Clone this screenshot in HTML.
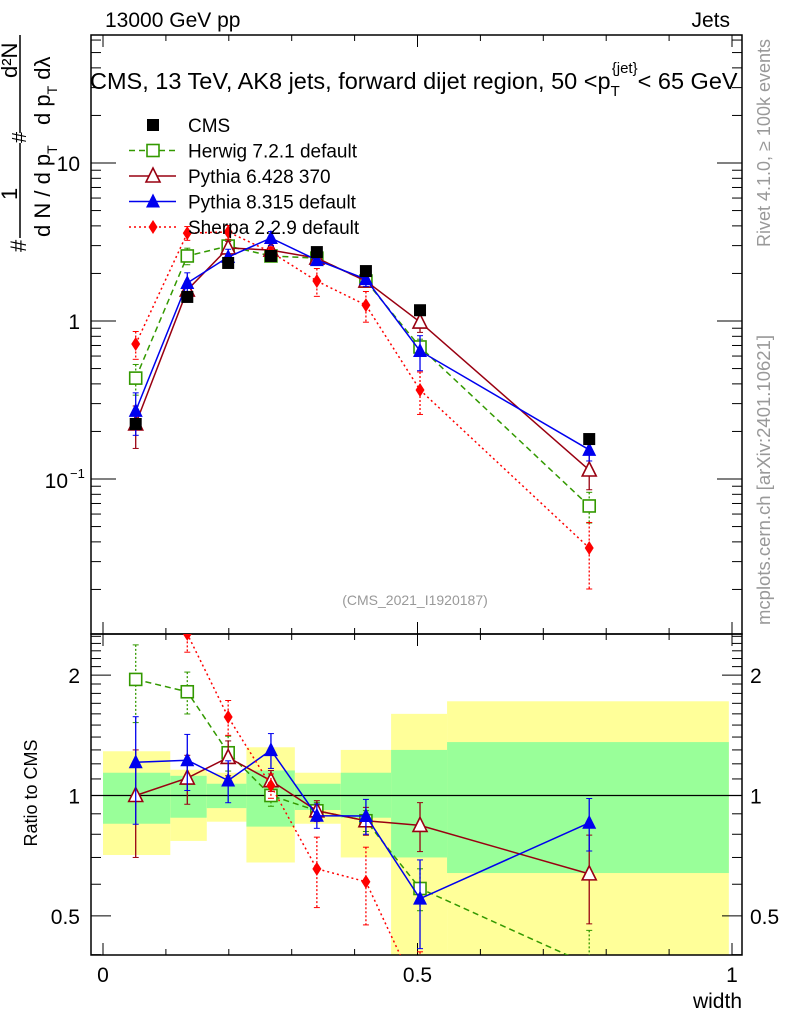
<!DOCTYPE html>
<html><head><meta charset="utf-8"><style>
html,body{margin:0;background:#fff;overflow:hidden;width:786px;height:1024px}
svg{display:block;font-family:"Liberation Sans",sans-serif}
</style></head><body>
<svg id="c" width="786" height="1024" xmlns="http://www.w3.org/2000/svg"></svg>
<script>
const xVals=[0.052,0.134,0.199,0.267,0.34,0.418,0.504,0.773];
const binEdges=[0,0.107,0.165,0.228,0.305,0.378,0.458,0.547,0.995];
const cms=[0.223,1.42,2.33,2.58,2.73,2.07,1.17,0.179];
const herwig=[0.435,2.58,2.98,2.58,2.5,1.79,0.685,0.0675];
const pythia6=[0.223,1.57,2.9,2.81,2.5,1.79,0.985,0.114];
const pythia8=[0.27,1.74,2.54,3.35,2.43,1.84,0.646,0.153];
const sherpa=[0.715,3.6,3.66,2.73,1.79,1.26,0.366,0.0366];
const herwigErr=[0.22,0.12,0.1,0.06,0.05,0.06,0.12,0.22];
const pythia6Err=[0.3,0.14,0.1,0.06,0.06,0.08,0.14,0.25];
const pythia8Err=[0.3,0.16,0.12,0.1,0.07,0.1,0.25,0.15];
const sherpaErr=[0.2,0.1,0.1,0.07,0.2,0.22,0.3,0.45];
const greenHi=[1.14,1.12,1.07,1.155,1.07,1.14,1.30,1.36];
const greenLo=[0.85,0.88,0.93,0.836,0.92,0.88,0.70,0.64];
const yellowHi=[1.29,1.16,1.14,1.32,1.14,1.30,1.6,1.72];
const yellowLo=[0.71,0.77,0.86,0.68,0.85,0.70,0.40,0.36];

const S=document.getElementById('c');
const NS='http://www.w3.org/2000/svg';
function mk(t,a,p){const e=document.createElementNS(NS,t);for(const k in a)e.setAttribute(k,a[k]);(p||S).appendChild(e);return e;}
const L=91,R=742,T=35,MB=634,RB=955;
const X=v=>103+629*v;
const Y=v=>321-158*Math.log10(v);
const YR=v=>795.5-400*Math.log10(v);
const clipM=mk('clipPath',{id:'cm'});mk('rect',{x:L,y:T,width:R-L,height:MB-T},clipM);
const clipR=mk('clipPath',{id:'cr'});mk('rect',{x:L,y:MB,width:R-L,height:RB-MB},clipR);

const gb=mk('g',{'clip-path':'url(#cr)'});

for(let i=0;i<8;i++){
 const x0=X(binEdges[i]),x1=X(binEdges[i+1]);
 const y=mk('rect',{x:x0,y:YR(yellowHi[i]),width:x1-x0,height:YR(yellowLo[i])-YR(yellowHi[i]),fill:'#ffff99'},gb);
 
 const g=mk('rect',{x:x0,y:YR(greenHi[i]),width:x1-x0,height:YR(greenLo[i])-YR(greenHi[i]),fill:'#99ff99'},gb);
 
}
mk('line',{x1:L,x2:R,y1:YR(1),y2:YR(1),stroke:'#000','stroke-width':1.3});

const f1=mk('rect',{x:L,y:T,width:R-L,height:MB-T,fill:'none',stroke:'#000','stroke-width':1.5});

const f2=mk('rect',{x:L,y:MB,width:R-L,height:RB-MB,fill:'none',stroke:'#000','stroke-width':1.5});


for(let i=0;i<=10;i++){const v=i/10,x=X(v),len=(i%5==0)?12:6;
 for(const [b,t] of [[MB,T],[RB,MB]]){mk('line',{x1:x,x2:x,y1:b,y2:b-len,stroke:'#000'});mk('line',{x1:x,x2:x,y1:t,y2:t+len,stroke:'#000'});}
}
[[0,'0'],[0.5,'0.5'],[1,'1']].forEach(([v,s])=>{const t=mk('text',{x:X(v),y:982,'font-size':21,'text-anchor':'middle'});t.textContent=s;});
const xl=mk('text',{x:742,y:1008,'font-size':21,'text-anchor':'end'});xl.textContent='width';

for(let d=-2;d<=1;d++)for(let m=1;m<10;m++){const v=m*Math.pow(10,d),y=Y(v);if(y<T||y>MB)continue;const len=m==1?25:10;
 mk('line',{x1:L,x2:L+len,y1:y,y2:y,stroke:'#000'});mk('line',{x1:R,x2:R-len,y1:y,y2:y,stroke:'#000'});}
[[10,'10'],[1,'1']].forEach(([v,s])=>{const t=mk('text',{x:80,y:Y(v)+8,'font-size':21,'text-anchor':'end'});t.textContent=s;});
const t01=mk('text',{x:68,y:Y(0.1)+9,'font-size':21,'text-anchor':'end'});t01.textContent='10';
const t01e=mk('text',{x:70,y:Y(0.1)-1,'font-size':13});t01e.textContent='−1';

[0.4,0.5,0.6,0.7,0.8,0.9,1,1.1,1.2,1.3,1.4,1.5,1.6,1.7,1.8,1.9,2,2.1,2.2,2.3,2.4,2.5].forEach(v=>{const y=YR(v);if(y<MB||y>RB)return;const len=(v==0.5||v==1||v==2)?20:10;
 mk('line',{x1:L,x2:L+len,y1:y,y2:y,stroke:'#000'});mk('line',{x1:R,x2:R-len,y1:y,y2:y,stroke:'#000'});});
[[2,'2'],[1,'1'],[0.5,'0.5']].forEach(([v,s])=>{for(const [x,a] of [[80,'end'],[750,'start']]){const t=mk('text',{x:x,y:YR(v)+8,'font-size':21,'text-anchor':a});t.textContent=s;}});
const rl=mk('text',{x:0,y:0,'font-size':18,'text-anchor':'middle',transform:'translate(37,793) rotate(-90)'});rl.textContent='Ratio to CMS';

const tt=[[105,27,'13000 GeV pp','start',21,'#000','top-left-label'],[730,27,'Jets','end',21,'#000','top-right-label'],
[415,605,'(CMS_2021_I1920187)','middle',14,'#999','analysis-id']];
tt.forEach(a=>{const t=mk('text',{x:a[0],y:a[1],'text-anchor':a[3],'font-size':a[4],fill:a[5]});t.textContent=a[2];});
const ti=mk('text',{x:90,y:89,'font-size':23.5});
ti.innerHTML='CMS, 13 TeV, AK8 jets, forward dijet region, 50 &lt;p<tspan dy="7" font-size="15">T</tspan><tspan dy="-23" dx="-8" font-size="15">{jet}</tspan><tspan dy="16">&lt; 65 GeV</tspan>';
const rv=mk('text',{x:0,y:0,'font-size':18,fill:'#999','text-anchor':'middle',transform:'translate(770,143) rotate(-90)'});rv.textContent='Rivet 4.1.0, ≥ 100k events';
const mp=mk('text',{x:0,y:0,'font-size':18.5,fill:'#999','text-anchor':'middle',transform:'translate(770,480) rotate(-90)'});mp.textContent='mcplots.cern.ch [arXiv:2401.10621]';

const yt=mk('g',{transform:'rotate(-90)'});
mk('text',{x:-252,y:26,'font-size':22},yt).textContent='#';
mk('line',{x1:-238,x2:-143,y1:20,y2:20,stroke:'#000','stroke-width':1.5},yt);
mk('text',{x:-200,y:17,'font-size':22},yt).textContent='1';
const dn=mk('text',{x:-237,y:50,'font-size':22},yt);dn.innerHTML='d N / d p<tspan dy="7" font-size="14">T</tspan>';
mk('text',{x:-143,y:26,'font-size':20},yt).textContent='#';
mk('line',{x1:-133,x2:-35,y1:20,y2:20,stroke:'#000','stroke-width':1.5},yt);
mk('text',{x:-78,y:17,'font-size':22},yt).textContent='d²N';
const dd=mk('text',{x:-125,y:50,'font-size':22},yt);dd.innerHTML='d p<tspan dy="7" font-size="14">T</tspan><tspan dy="-7"> dλ</tspan>';

const series=[
 {n:'herwig',v:herwig,e:herwigErr,c:'#339900',d:'6,4',m:'osq'},
 {n:'pythia6',v:pythia6,e:pythia6Err,c:'#990011',d:'',m:'otri'},
 {n:'pythia8',v:pythia8,e:pythia8Err,c:'#0000ee',d:'',m:'tri'},
 {n:'sherpa',v:sherpa,e:sherpaErr,c:'#ff0000',d:'2,3',m:'dia'}];
function marker(type,x,y,c,p){
 if(type=='sq')return mk('rect',{x:x-6,y:y-6,width:12,height:12,fill:'#000'},p);
 if(type=='osq')return mk('rect',{x:x-6,y:y-6,width:12,height:12,fill:'#fff',stroke:c,'stroke-width':1.6},p);
 if(type=='otri')return mk('polygon',{points:`${x},${y-8} ${x-7},${y+6} ${x+7},${y+6}`,fill:'#fff',stroke:c,'stroke-width':1.6},p);
 if(type=='tri')return mk('polygon',{points:`${x},${y-8} ${x-7},${y+6} ${x+7},${y+6}`,fill:c},p);
 return mk('polygon',{points:`${x},${y-7} ${x-4.5},${y} ${x},${y+7} ${x+4.5},${y}`,fill:c},p);
}
function draw(s,panel){
 const g=mk('g',{'clip-path':panel=='main'?'url(#cm)':'url(#cr)'});
 
 const vals=panel=='main'?s.v:s.v.map((v,i)=>v/cms[i]);
 const F=panel=='main'?Y:YR;
 mk('polyline',{points:vals.map((v,i)=>X(xVals[i])+','+F(v)).join(' '),fill:'none',stroke:s.c,'stroke-width':1.5,'stroke-dasharray':s.d},g);
 vals.forEach((v,i)=>{const x=X(xVals[i]),y1=F(v*(1+s.e[i])),y2=F(Math.max(v*(1-s.e[i]),1e-4));
  mk('line',{x1:x,x2:x,y1:y1,y2:y2,stroke:s.c,'stroke-width':1.3,'stroke-dasharray':s.d?'2,2':''},g);
  mk('line',{x1:x-3,x2:x+3,y1:y1,y2:y1,stroke:s.c},g);mk('line',{x1:x-3,x2:x+3,y1:y2,y2:y2,stroke:s.c},g);
  const m=marker(s.m,x,F(v),s.c,g);});
}
series.forEach(s=>draw(s,'main'));
const cg=mk('g',{});
cms.forEach((v,i)=>{const m=marker('sq',X(xVals[i]),Y(v),'#000',cg);});
series.forEach(s=>draw(s,'ratio'));

const lg=mk('g',{});
const leg=[['CMS','sq','#000',''],['Herwig 7.2.1 default','osq','#339900','6,4'],['Pythia 6.428 370','otri','#990011',''],['Pythia 8.315 default','tri','#0000ee',''],['Sherpa 2.2.9 default','dia','#ff0000','2,3']];
leg.forEach((l,i)=>{const y=125+25.5*i;const e=mk('g',{},lg);
 if(i>0)mk('line',{x1:129,x2:176,y1:y,y2:y,stroke:l[2],'stroke-width':1.5,'stroke-dasharray':l[3]},e);
 marker(l[1],153,y,l[2],e);
 const t=mk('text',{x:188,y:y+7,'font-size':19},e);t.textContent=l[0];});
</script>
</body></html>
